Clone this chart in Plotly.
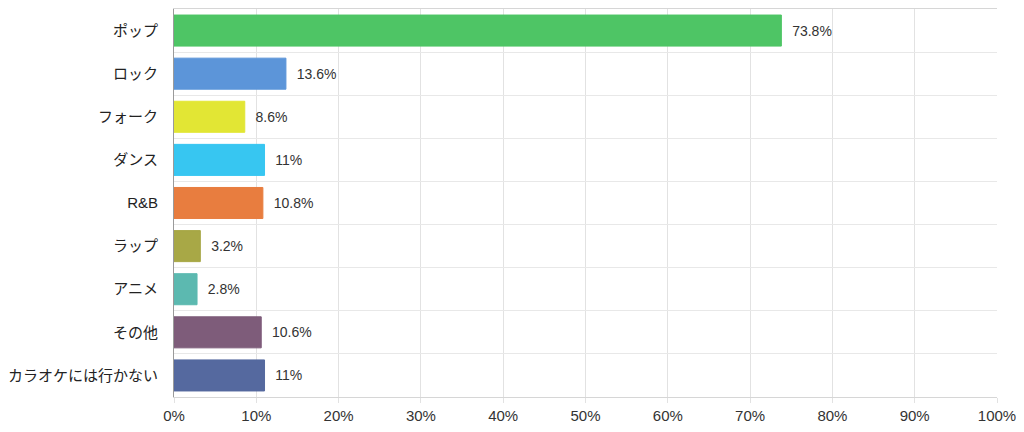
import plotly.graph_objects as go

categories = ["ポップ", "ロック", "フォーク", "ダンス", "R&B", "ラップ", "アニメ", "その他", "カラオケには行かない"]
percent = [73.8, 13.6, 8.6, 11, 10.8, 3.2, 2.8, 10.6, 11]
colors = ["#4ec565", "#5c95d9", "#e2e634", "#37c6f1", "#e87d3f", "#a8a846", "#5cb9b0", "#7e5c7a", "#55699f"]
x_ticks = list(range(0, 101, 10))

fig = go.Figure()
fig.add_trace(go.Bar(
    x=percent, y=categories, orientation="h",
    marker=dict(color=colors, line=dict(color=colors, width=1)),
    width=0.72,
    text=[f"  {v:g}%" for v in percent],
    textposition="outside", cliponaxis=False,
    textfont=dict(size=14, color="#333333"),
    hoverinfo="skip",
))

# page body has an 8px margin, so the figure is a bit smaller than the window
fig.update_layout(
    width=1016, height=424,
    margin=dict(l=161, r=27, t=0, b=35),
    plot_bgcolor="white", paper_bgcolor="white",
    font=dict(family="Liberation Sans, Noto Sans CJK JP, sans-serif", size=15, color="#333333"),
    showlegend=False,
)
fig.update_xaxes(
    range=[0, 100], tickvals=x_ticks, ticktext=[f"{t}%" for t in x_ticks],
    showgrid=True, gridcolor="#e2e2e2", gridwidth=1,
    ticks="outside", ticklen=5, tickcolor="#e2e2e2",
    showline=True, linecolor="#d6d6d6", mirror=True, zeroline=False,
    tickfont=dict(size=15, color="#333333"),
)
fig.update_yaxes(
    type="category", autorange="reversed", tickson="boundaries",
    showgrid=True, gridcolor="#e8e8e8", ticks="", ticklen=0,
    ticklabelstandoff=12,
    showline=True, linecolor="#9a9a9a",
    tickfont=dict(size=15, color="#222222"),
)

fig.write_html("out.html")
